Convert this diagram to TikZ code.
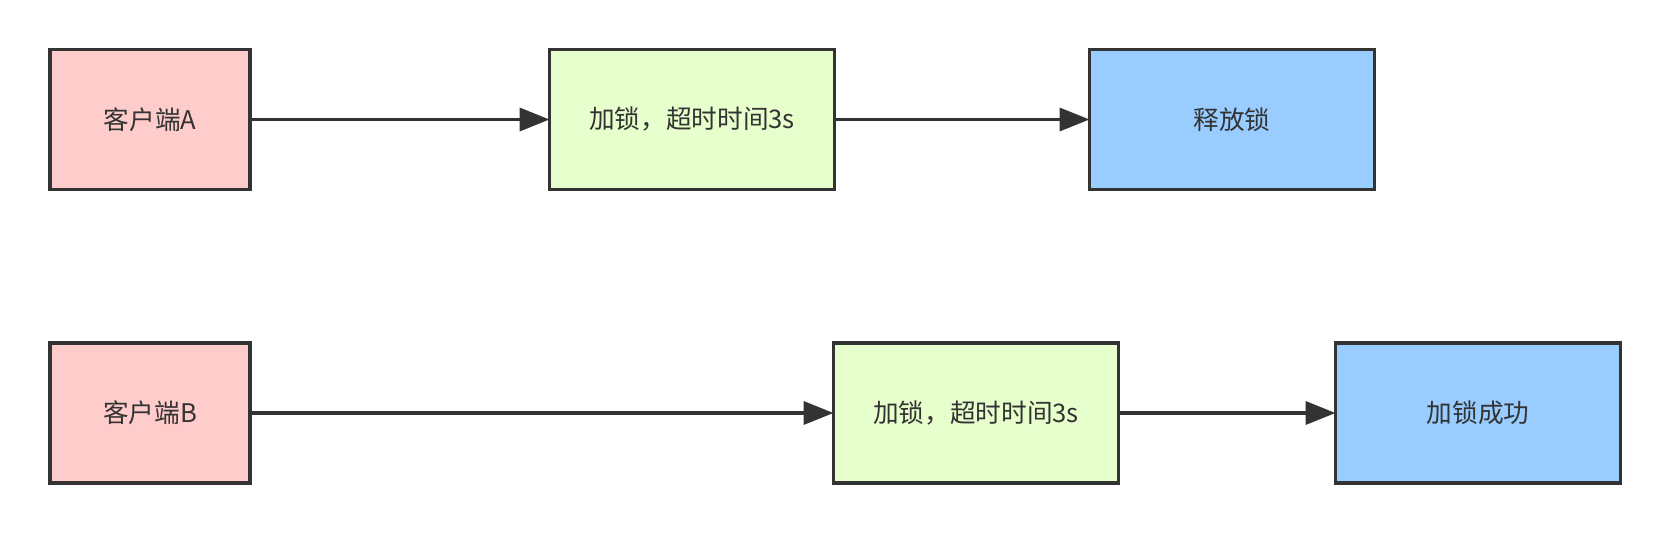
\documentclass[tikz,border=0pt]{standalone}
\usepackage{fontspec}
\setmainfont{Noto Sans CJK SC}
\usetikzlibrary{arrows.meta}
\definecolor{pinkfill}{HTML}{FFCCCC}
\definecolor{greenfill}{HTML}{E6FFCC}
\definecolor{bluefill}{HTML}{99CCFF}
\definecolor{darkline}{HTML}{333333}
\begin{document}
\begin{tikzpicture}[x=0.02cm,y=-0.02cm,
  box/.style={draw=darkline,line width=2.1pt,outer sep=0pt,minimum height=2.8cm,text=darkline,font=\fontsize{14.6pt}{18pt}\selectfont},
  client/.style={box,fill=pinkfill,minimum width=4cm},
  lockbox/.style={box,fill=greenfill,minimum width=5.7cm},
  result/.style={box,fill=bluefill,minimum width=5.7cm},
  flow/.style={draw=darkline,line width=2.1pt,-{Triangle[length=0.6cm,width=0.46cm]}}]
\useasboundingbox (0,0) rectangle (1670,534);
\node[client]  (clientA) at (150,119.5)  {客户端A};
\node[lockbox] (lockA)   at (692,119.5)  {加锁，超时时间3s};
\node[result]  (unlockA) at (1232,119.5) {释放锁};
\node[client]  (clientB) at (150,413)    {客户端B};
\node[lockbox] (lockB)   at (976,413)    {加锁，超时时间3s};
\node[result]  (okB)     at (1478,413)   {加锁成功};
\draw[flow] (clientA) -- (lockA);
\draw[flow] (lockA) -- (unlockA);
\draw[flow] (clientB) -- (lockB);
\draw[flow] (lockB) -- (okB);
\end{tikzpicture}
\end{document}
